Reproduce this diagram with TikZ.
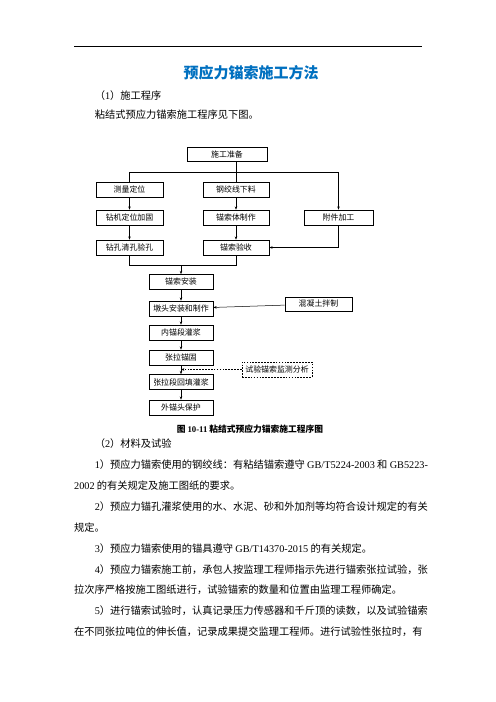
\documentclass[tikz,border=0pt]{standalone}
\usepackage{fontspec}
\setmainfont{Noto Sans CJK SC}
\newfontfamily\timesfont{Liberation Serif}
\usetikzlibrary{arrows.meta}
\definecolor{titleblue}{HTML}{0070C0}
\tikzset{
  stepbox/.style={draw, line width=0.7pt, inner sep=1pt, minimum height=18pt, font=\fontsize{9.5}{11}\selectfont},
  flow/.style={line width=0.6pt, -{Stealth[length=4pt,width=3pt]}},
  link/.style={line width=0.6pt},
  bodyline/.style={anchor=west, inner sep=0pt, font=\fontsize{12.3}{14}\selectfont},
}
\begin{document}
\begin{tikzpicture}[x=1.2pt, y=-1.2pt]
        \path[use as bounding box, fill=white] (0,0) rectangle (496,702);

        % Page head
        \coordinate (ruleL) at (74,46);
        \coordinate (ruleR) at (422,46);
        \draw[line width=0.8pt] (ruleL) -- (ruleR);
        \node (title) [inner sep=0pt, text=titleblue, font=\fontsize{18}{20}\selectfont\bfseries] at (251,73) {预应力锚索施工方法};
        \node (sec1) [bodyline] at (94.6,96) {（{\timesfont 1}）施工程序};
        \node (intro) [bodyline] at (94.6,115) {粘结式预应力锚索施工程序见下图。};

        % Nodes
        \node (prep) [stepbox, minimum width=96pt, minimum height=17pt] at (227,154) {施工准备};
        \node (survey) [stepbox, minimum width=80.4pt] at (129.5,189.5) {测量定位};
        \node (cut) [stepbox, minimum width=79.2pt] at (236,189.5) {钢绞线下料};
        \node (drill) [stepbox, minimum width=80.4pt] at (129.5,217.5) {钻机定位加固};
        \node (body) [stepbox, minimum width=79.2pt] at (236,217.5) {锚索体制作};
        \node (parts) [stepbox, minimum width=82.8pt] at (338.5,217.5) {附件加工};
        \node (hole) [stepbox, minimum width=80.4pt] at (129.5,247.5) {钻孔清孔验孔};
        \node (check) [stepbox, minimum width=79.2pt] at (236,247.5) {锚索验收};
        \node (install) [stepbox, minimum width=76.8pt] at (181,282) {锚索安装};
        \node (head) [stepbox, minimum width=76.8pt] at (181,308.5) {墩头安装和制作};
        \node (concrete) [stepbox, minimum width=80.4pt, minimum height=17pt] at (318.5,304) {混凝土拌制};
        \node (grout) [stepbox, minimum width=76.8pt] at (181,332.5) {内锚段灌浆};
        \node (anchor) [stepbox, minimum width=76.8pt] at (181,357.5) {张拉锚固};
        \node (monitor) [stepbox, dash pattern=on 2pt off 1.5pt, minimum width=84pt] at (277,369.5) {试验锚索监测分析};
        \node (backfill) [stepbox, minimum width=76.8pt] at (181,382) {张拉段回填灌浆};
        \node (protect) [stepbox, minimum width=76.8pt] at (181,407.5) {外锚头保护};
        \node (caption) [inner sep=0pt, font=\fontsize{10.5}{12}\selectfont\bfseries] at (250,429) {图 {\timesfont 10-11} 粘结式预应力锚索施工程序图};

        % Edges
        \coordinate (bar) at (0,172);
        \coordinate (join) at (0,265);
        \draw[link] (prep.south -| cut) -- (cut.north);
        \draw[link] (survey.north |- bar) -- (parts.north |- bar);
        \draw[link] (survey.north |- bar) -- (survey.north);
        \draw[flow] (parts.north |- bar) -- (parts.north);
        \draw[flow] (survey) -- (drill);
        \draw[flow] (drill) -- (hole);
        \draw[flow] (cut) -- (body);
        \draw[flow] (body) -- (check);
        \draw[flow] (parts.south) |- (check.east);
        \draw[link] (hole.south) |- (check.south |- join) -- (check.south);
        \draw[flow] (install.north |- join) -- (install.north);
        \draw[flow] (install) -- (head);
        \draw[flow] (concrete) -- (head);
        \draw[flow] (head) -- (grout);
        \draw[flow] (grout) -- (anchor);
        \draw[flow] (anchor) -- (backfill);
        \draw[flow] (backfill) -- (protect);
        \draw[flow, dash pattern=on 2pt off 1.5pt] (monitor.west) -- (monitor.west -| anchor.south);

        % Text below
        \node (sec2) [bodyline] at (94.6,444) {（{\timesfont 2}）材料及试验};
        \node (l1) [bodyline] at (94.6,465) {{\timesfont 1}）预应力锚索使用的钢绞线：有粘结锚索遵守 {\timesfont GB/T5224-2003} 和 {\timesfont GB5223-}};
        \node (l2) [bodyline] at (74,486) {{\timesfont 2002} 的有关规定及施工图纸的要求。};
        \node (l3) [bodyline] at (94.6,507) {{\timesfont 2}）预应力锚孔灌浆使用的水、水泥、砂和外加剂等均符合设计规定的有关};
        \node (l4) [bodyline] at (74,527.5) {规定。};
        \node (l5) [bodyline] at (94.6,548.5) {{\timesfont 3}）预应力锚索使用的锚具遵守 {\timesfont GB/T14370-2015} 的有关规定。};
        \node (l6) [bodyline] at (94.6,569.5) {{\timesfont 4}）预应力锚索施工前，承包人按监理工程师指示先进行锚索张拉试验，张};
        \node (l7) [bodyline] at (74,590) {拉次序严格按施工图纸进行，试验锚索的数量和位置由监理工程师确定。};
        \node (l8) [bodyline] at (94.6,611) {{\timesfont 5}）进行锚索试验时，认真记录压力传感器和千斤顶的读数，以及试验锚索};
        \node (l9) [bodyline] at (74,631.5) {在不同张拉吨位的伸长值，记录成果提交监理工程师。进行试验性张拉时，有};
    \end{tikzpicture}
\end{document}
